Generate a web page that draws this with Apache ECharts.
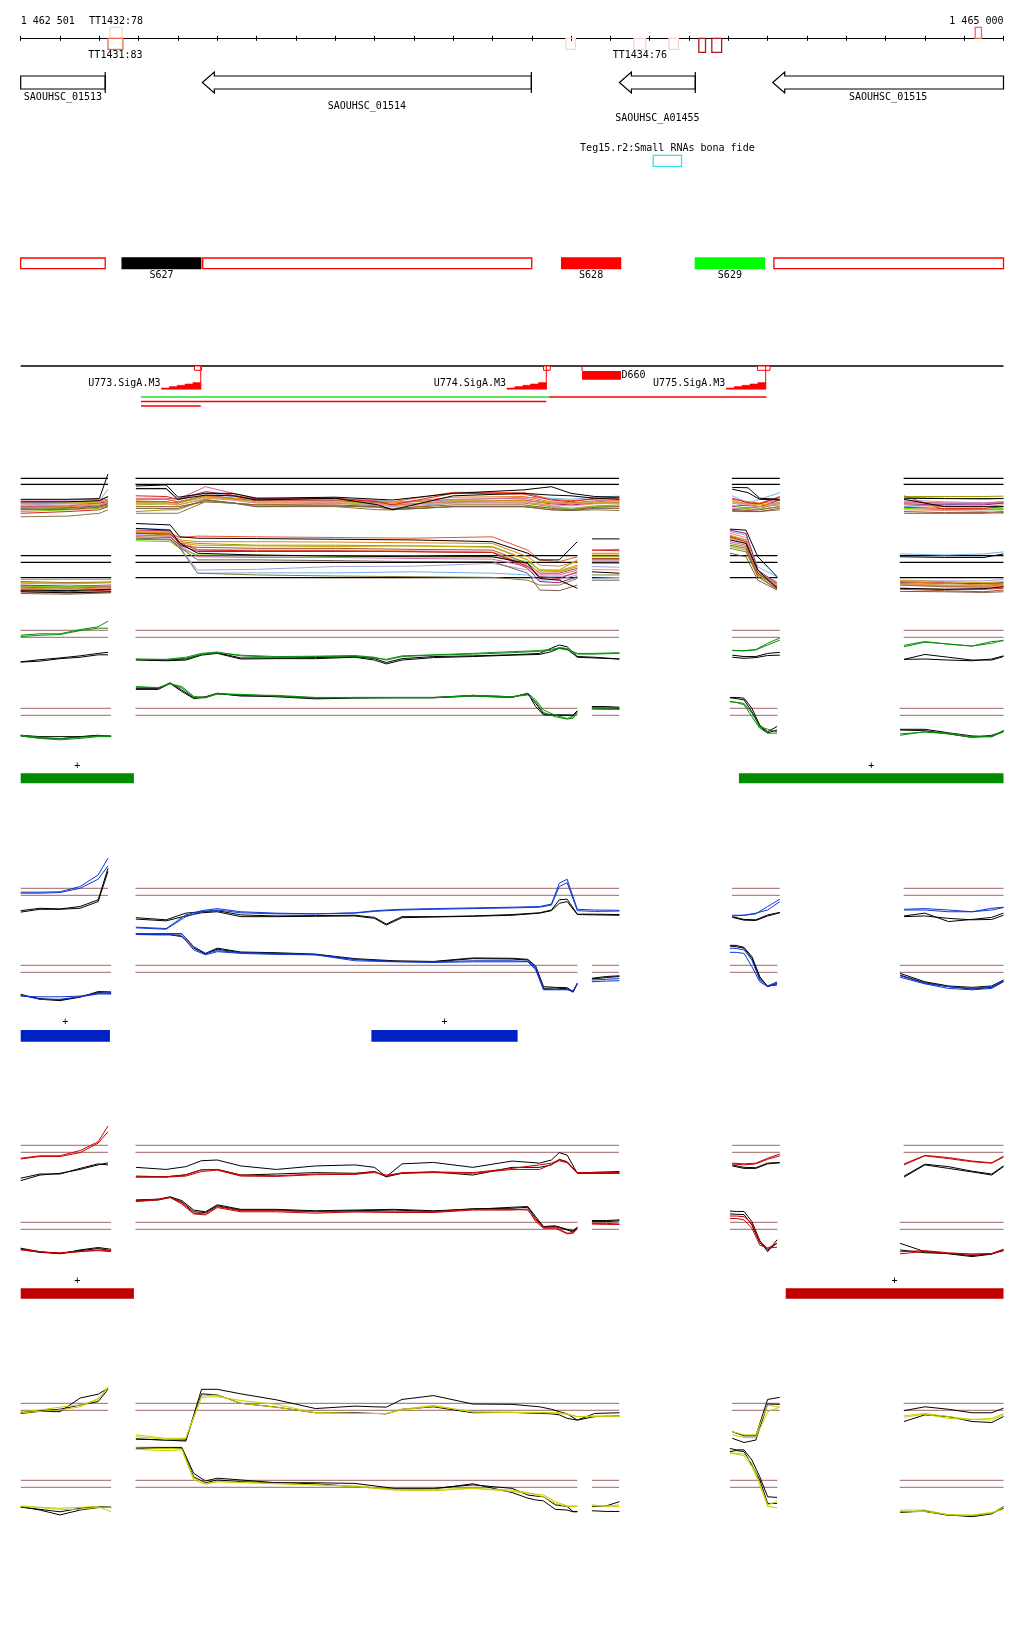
<!DOCTYPE html>
<html>
<head>
<meta charset="utf-8">
<title>Genome browser view</title>
<script src="https://cdn.jsdelivr.net/npm/echarts@6/dist/echarts.min.js"></script>
<style>
html,body{margin:0;padding:0;background:#ffffff;}
#chart{width:1024px;height:1640px;}
</style>
</head>
<body>
<div id="chart"></div>
<script>
// ================= DATA =================
const viewMin = 1462500;
const viewMax = 1465000;
const rulerLabels = ['1 462 501', '1 465 000'];

// transcription terminators
const ttNames  = ['TT1432:78', 'TT1431:83', '', 'TT1434:76', '', '', '', ''];
const ttStart  = [1462727, 1462722, 1463887, 1464060, 1464149, 1464225, 1464258, 1464928];
const ttEnd    = [1462758, 1462760, 1463911, 1464090, 1464173, 1464242, 1464283, 1464944];
const ttStrand = ['+', '-', '-', '-', '-', '-', '-', '+'];
const ttScore  = [78, 83, 75, 76, 70, 98, 97, 85];

// genes
const geneNames  = ['SAOUHSC_01513', 'SAOUHSC_01514', 'SAOUHSC_A01455', 'SAOUHSC_01515'];
const geneStart  = [1462300, 1462962, 1464023, 1464413];
const geneEnd    = [1462715, 1463799, 1464216, 1465300];
const geneStrand = ['-', '-', '-', '-'];

// small RNA
const srnaNames = ['Teg15.r2:Small RNAs bona fide'];
const srnaStart = [1464109];
const srnaEnd   = [1464181];

// segments
const segNames    = ['', 'S627', '', 'S628', 'S629', ''];
const segStart    = [1462500, 1462758, 1462963, 1463876, 1464216, 1464416];
const segEnd      = [1462715, 1462958, 1463800, 1464026, 1464392, 1465000];
const segCategory = ['CDS', 'S-a', 'CDS', 'S-b', 'S-c', 'CDS'];

// promoters
const promNames    = ['U773.SigA.M3', 'U774.SigA.M3', 'U775.SigA.M3'];
const promTSS      = [1462958, 1463837, 1464395];
const promBoxStart = [1462942, 1463830, 1464374];
const promBoxEnd   = [1462960, 1463847, 1464406];
const promStrand   = ['-', '-', '-'];

// D feature
const dNames = ['D660'];
const dStart = [1463928];
const dEnd   = [1464027];

// transcripts
const trStart = [1462806, 1463844, 1462806, 1462806];
const trEnd   = [1463844, 1464397, 1463837, 1462958];
const trKind  = ['G', 'R', 'R', 'R'];

// expressed segments bars (track 0 green, 1 blue, 2 red)
const barTrack  = [0, 0, 1, 1, 2, 2];
const barStart  = [1462500, 1464327, 1462500, 1463392, 1462500, 1464446];
const barEnd    = [1462788, 1465000, 1462727, 1463764, 1462788, 1465000];
const barStrand = ['+', '+', '+', '+', '+', '+'];

// ---- probe positions ----
const posUA  = [1462500, 1462549, 1462600, 1462651, 1462697, 1462722];
const posUB  = [1462793, 1462870, 1462920, 1462960, 1463000, 1463060, 1463150, 1463250, 1463350, 1463400, 1463430, 1463470, 1463550, 1463650, 1463750, 1463820, 1463850, 1463870, 1463890, 1463916, 1463960, 1464023];
const posUC  = [1464310, 1464340, 1464370, 1464400, 1464431];
const posUD  = [1464747, 1464800, 1464860, 1464920, 1464970, 1465000];
const posLA  = [1462500, 1462549, 1462600, 1462651, 1462697, 1462730];
const posLB1 = [1462793, 1462850, 1462880, 1462910, 1462940, 1462970, 1463000, 1463060, 1463150, 1463250, 1463350, 1463450, 1463550, 1463650, 1463750, 1463790, 1463810, 1463830, 1463860, 1463890, 1463905, 1463916];
const posLB2 = [1463953, 1463990, 1464023];
const posLC  = [1464304, 1464320, 1464340, 1464360, 1464380, 1464400, 1464424];
const posLD  = [1464737, 1464800, 1464860, 1464920, 1464970, 1465000];

const mUA  = [1462500, 1462620, 1462700, 1462722];
const mUB  = [1462793, 1462870, 1462900, 1462970, 1463040, 1463100, 1463300, 1463410, 1463445, 1463600, 1463780, 1463850, 1463900, 1463960, 1464023];
const mUC  = [1464310, 1464350, 1464380, 1464431];
const mUD  = [1464747, 1464850, 1464950, 1465000];
const mLA  = [1462500, 1462620, 1462730];
const mLB1 = [1462793, 1462880, 1462905, 1462950, 1463100, 1463300, 1463500, 1463700, 1463790, 1463820, 1463870, 1463916];
const mLB2 = [1463953, 1464023];
const mLC  = [1464304, 1464345, 1464375, 1464424];
const mLD  = [1464737, 1464850, 1464950, 1465000];

// covered extents (for threshold lines)
const extUp = [[1462500, 1462722], [1462792, 1464022], [1464309, 1464431], [1464746, 1465000]];
const extLo = [[1462500, 1462730], [1462792, 1463916], [1463953, 1464022], [1464304, 1464425], [1464736, 1465000]];
const thrMultiUp = [10, 9.14];
const thrMultiLo = [10, 9.05, 6.86];
const thrColor   = [10, 9];

// ---- multi-condition profiles (upper / lower strand) ----
const mUpK1 = [7.0,7.0,7.1,10.6, 8.9,9.05,7.3,7.85,7.85,7.15,7.3,7.0,6.9,7.85,8.35,8.8,7.85,7.4,7.3, 8.7,8.65,7.15,7.0, 7.15,7.1,7.1,7.1];
const mUpK2 = [6.65,6.65,6.8,7.4, 8.55,8.55,7.0,7.6,7.5,6.9,7.15,6.2,5.5,7.5,7.85,7.6,7.5,7.15,7.0, 8.45,7.95,7.0,6.9, 7.0,5.95,5.95,5.95];
const mUp1 = [6.5,6.6,6.8,7.0, 6.9,7.0,6.65,7.4,7.0,7.15,7.0,6.8,6.65,8.0,7.95,7.0,6.8,7.0,7.15, 7.0,6.65,6.45,7.4, 6.65,6.45,6.35,6.5];
const mUp2 = [5.55,5.7,5.95,6.45, 5.25,5.5,5.5,6.9,6.45,6.2,6.45,6.05,5.55,6.5,6.45,5.95,5.7,6.05,6.2, 5.5,5.7,5.95,6.2, 7.4,7.4,7.4,7.45];
const mUp3 = [6.45,6.5,6.7,8.45, 8.45,8.45,6.9,7.95,7.4,7.0,7.0,6.9,6.65,6.9,7.3,7.15,7.0,7.3,7.45, 7.5,6.5,7.0,7.95, 5.95,6.2,6.45,6.5];
const mUp4 = [6.2,6.35,6.45,6.9, 6.45,6.5,6.5,7.3,6.9,6.45,6.5,6.2,5.95,6.45,6.65,6.05,5.7,5.95,6.05, 6.45,6.05,5.95,6.65, 6.9,6.65,6.5,6.65];
const mUp5 = [5.95,6.05,6.45,6.65, 6.65,6.65,6.45,7.6,7.15,6.8,6.8,6.5,6.2,6.65,6.9,6.35,6.2,6.45,6.5, 5.95,6.2,5.95,6.9, 6.35,6.2,6.2,6.45];
const mUp6 = [6.9,6.9,7.0,7.3, 7.15,7.15,7.0,8.8,7.85,7.15,7.15,6.65,6.45,7.0,7.15,6.5,6.45,6.8,6.9, 5.7,5.85,5.7,6.45, 6.5,6.45,6.45,6.65];
const mUp7 = [5.25,5.5,5.7,6.05, 6.2,6.35,6.2,7.0,6.45,6.2,6.05,5.95,5.5,5.95,5.95,5.85,5.55,5.95,5.95, 6.2,5.5,5.6,5.95, 5.7,5.5,5.6,5.7];
const mUp8 = [5.85,5.95,6.2,6.5, 7.0,7.0,6.65,7.5,7.15,6.9,6.9,6.65,6.45,7.3,7.4,6.65,6.5,6.65,6.8, 6.65,6.45,6.35,6.9, 6.2,5.95,5.95,6.2];
const mUp9 = [5.5,5.55,5.85,6.2, 5.95,5.95,5.95,6.65,6.45,6.2,6.2,5.95,5.7,6.2,6.2,5.7,5.5,5.85,5.95, 5.55,5.4,5.5,5.95, 5.25,5.1,5.1,5.25];
const mUp10 = [6.35,6.45,6.6,6.9, 6.5,6.5,6.45,7.4,7.0,6.65,6.65,6.45,6.2,6.8,6.8,6.45,6.35,6.5,6.65, 6.5,6.35,6.2,6.5, 7.3,7.15,7.0,7.15];
const mUp11 = [4.5,4.6,5.0,5.5, 5.0,5.0,5.0,6.65,6.45,5.95,5.95,5.5,5.5,5.95,5.95,5.5,5.4,5.5,5.4, 5.25,5.25,5.25,5.5, 7.5,5.5,5.5,5.5];
const mUp12 = [6.05,6.15,6.35,6.5, 6.35,6.35,6.2,7.15,6.9,6.5,6.5,6.35,6.05,6.65,6.6,6.2,6.05,6.35,6.45, 6.9,6.2,5.95,6.35, 5.5,5.4,5.25,5.0];
const mUp13 = [5.7,5.8,6.05,6.35, 5.7,5.7,5.7,6.9,6.5,5.95,6.05,5.85,5.55,5.95,5.95,5.5,5.4,5.7,5.7, 5.4,5.25,5.25,5.7, 5.0,5.0,5.0,5.1];
const mUp14 = [5.0,5.25,5.5,5.95, 7.5,7.4,7.0,8.1,7.6,7.0,7.15,6.65,6.2,7.86,7.75,6.9,6.65,7.15,7.3, 7.15,6.5,6.35,7.3, 5.85,5.7,5.7,5.95];

const mLoK1 = [5.1,5.0,5.2, 14.6,14.4,12.7,12.5,12.45,12.35,12.25,12.0,10.35,9.4,9.4,12.0, 12.4,12.4, 13.8,13.65,9.85,7.0, 9.85,9.75,9.75,10.25];
const mLoK2 = [4.85,4.7,4.85, 13.9,13.65,11.75,10.35,10.1,9.95,9.85,9.85,8.9,6.75,6.5,5.35, 7.7,7.5, 12.25,11.75,7.95,5.35, 5.35,5.2,5.3,5.55];
const mLo1 = [4.85,4.7,4.85, 13.45,13.2,12.6,12.8,12.7,12.6,12.5,12.7,10.8,9.4,9.15,9.85, 10.8,10.9, 12.8,12.25,7.5,5.8, 6.3,6.15,5.95,6.05];
const mLo2 = [5.75,5.6,5.75, 13.2,12.95,12.0,11.75,11.5,11.5,11.4,11.3,9.4,7.95,7.95,9.4, 9.85,9.85, 11.75,11.3,7.25,5.55, 6.05,5.65,5.55,5.65];
const mLo3 = [6.6,6.6,6.6, 13.9,13.75,11.3,7.5,7.55,7.55,7.7,7.5,7.25,6.5,6.6,7.25, 6.75,6.9, 13.45,12.95,8.4,7.0, 10.25,10.1,10.25,10.55];
const mLo4 = [6.05,5.95,6.15, 12.95,12.8,11.05,7.95,8.05,8.45,8.5,8.9,7.95,7.0,7.0,7.5, 8.45,8.35, 12.5,11.75,7.5,6.3, 6.5,6.4,6.4,6.6];
const mLo5 = [5.8,5.65,5.8, 13.65,13.55,11.5,10.6,10.6,10.6,10.6,10.45,8.2,6.3,6.15,7.0, 9.4,9.4, 13.65,13.2,7.95,6.05, 6.15,6.05,6.05,6.15];
const mLo6 = [5.55,5.5,5.65, 12.95,12.8,11.4,9.85,9.75,9.75,9.6,9.5,8.45,7.25,7.25,7.95, 8.9,8.9, 12.0,11.5,7.7,5.9, 5.8,5.65,5.65,5.8];
const mLo7 = [5.65,5.55,5.75, 12.15,12.0,11.05,10.1,10.1,9.95,9.95,9.85,9.15,7.95,7.7,8.45, 9.15,9.15, 11.3,10.8,7.25,5.55, 5.95,5.8,5.75,5.95];
const mLo8 = [5.35,5.2,5.45, 13.3,13.1,12.25,12.0,12.0,11.95,11.85,11.75,9.85,8.65,8.5,9.15, 10.35,10.35, 12.6,12.0,7.4,5.85, 6.3,6.05,5.8,5.95];
const mLo9 = [6.3,6.15,6.25, 12.7,12.6,11.5,11.2,11.05,11.05,10.9,10.8,8.9,7.5,7.5,8.2, 9.6,9.6, 11.5,11.05,7.0,5.2, 5.2,5.0,4.85,5.1];
const mLo10 = [6.15,6.05,6.15, 13.45,13.3,11.85,11.5,11.4,11.3,11.4,11.2,9.4,7.95,7.85,8.65, 10.1,10.1, 12.95,12.25,7.4,5.8, 6.45,6.3,6.15,6.3];
const mLo11 = [5.5,5.35,5.55, 12.35,12.25,11.05,7.5,7.25,7.1,7.0,6.9,6.5,5.8,5.8,6.75, 7.25,7.25, 11.05,10.55,7.0,5.35, 5.8,5.55,5.5,5.65];
const mLo12 = [5.25,5.1,5.3, 13.55,13.45,12.25,10.9,10.8,10.8,10.7,10.55,8.65,7.7,7.7,8.45, 8.05,7.95, 13.2,12.6,7.7,5.65, 5.95,5.8,5.65,5.55];
const mLo13 = [4.6,4.5,4.7, 12.5,12.35,11.2,9.4,9.4,9.3,9.15,9.15,7.5,5.1,5.0,5.8, 6.5,6.5, 10.35,9.85,6.5,5.1, 4.9,4.85,4.75,4.85];
const mLo14 = [5.0,4.85,5.1, 13.2,13.1,11.85,10.8,10.7,10.7,10.55,10.45,8.45,7.0,6.75,7.7, 10.8,10.7, 12.7,12.0,7.5,5.55, 5.35,5.2,5.2,5.35];

// ---- green condition ----
const gUpC1 = [9.3,9.5,9.5,10.1,10.5,11.3, 5.9,5.85,6.15,6.7,6.9,6.35,6.15,6.25,6.3,6.05,5.85,6.35,6.5,6.7,6.95,7.1,7.3,7.4,7.2,6.7,6.7,6.8, 7.15,7.1,7.25,8.15,8.9, 7.65,8.3,8.05,7.75,8.15,8.6];
const gUpC2 = [9.1,9.3,9.4,9.95,10.3,10.3, 5.85,5.8,6.0,6.55,6.8,6.45,6.25,6.3,6.4,6.15,5.75,6.25,6.45,6.6,6.8,7.0,7.15,7.55,7.4,6.6,6.6,6.7, 7.1,7.05,7.2,7.9,8.6, 7.85,8.4,8.0,7.75,8.4,8.5];
const gUpK1 = [5.5,5.8,6.05,6.35,6.7,6.85, 5.85,5.75,5.9,6.55,6.8,6.05,6.05,6.1,6.25,5.95,5.4,5.95,6.25,6.35,6.5,6.7,7.45,7.9,7.65,6.25,6.15,5.9, 6.45,6.25,6.25,6.7,6.85, 5.85,6.55,6.15,5.75,5.75,6.25];
const gUpK2 = [5.45,5.6,5.95,6.15,6.5,6.5, 5.75,5.65,5.75,6.45,6.7,5.9,5.95,5.95,6.15,5.75,5.2,5.75,6.1,6.25,6.45,6.55,6.95,7.45,7.3,6.15,6.05,5.9, 6.15,6.0,6.1,6.4,6.45, 5.85,5.9,5.75,5.65,5.9,6.35];
const gLoC1 = [6.05,5.7,5.5,5.7,5.95,5.95, 13.1,12.95,13.5,13.1,11.7,11.55,12.15,11.9,11.85,11.55,11.55,11.55,11.55,11.75,11.55,12.15,11.2,9.75,9.0,8.55,8.8,9.5, 9.9,9.85,9.85, 10.95,10.85,10.7,9.3,7.4,7.0,6.65, 6.15,6.65,6.45,5.95,6.05,6.8];
const gLoC2 = [6.15,5.85,5.65,5.85,6.05,6.05, 13.0,12.95,13.55,12.9,11.55,11.5,12.05,12.0,11.75,11.5,11.5,11.5,11.5,11.85,11.65,11.9,10.95,9.4,8.8,8.45,8.6,9.3, 9.95,9.9,9.9, 10.95,10.85,10.5,8.8,7.15,6.45,6.45, 6.35,6.6,6.35,5.85,5.95,6.65];
const gLoK1 = [6.15,5.95,5.95,5.95,6.15,5.95, 12.85,12.85,13.65,12.6,11.5,11.65,12.15,11.75,11.75,11.45,11.55,11.55,11.55,11.85,11.65,12.05,10.7,9.2,9.05,9.05,9.05,9.65, 10.25,10.25,10.15, 11.55,11.55,11.45,10.0,7.6,6.65,7.4, 7.0,7.0,6.5,6.05,5.95,6.8];
const gLoK2 = [6.05,5.75,5.65,5.95,6.05,6.05, 12.7,12.7,13.55,12.4,11.4,11.55,12.05,11.85,11.65,11.35,11.45,11.5,11.5,11.75,11.55,12.15,10.25,9.05,9.0,9.0,8.9,9.5, 10.05,10.05,10.0, 11.5,11.4,11.2,9.5,7.4,6.5,6.9, 6.9,6.8,6.35,5.85,6.15,6.65];

// ---- blue condition ----
const bUpC1 = [9.45,9.45,9.5,10.25,11.9,14.3, 4.45,4.25,6.2,6.8,7.1,6.65,6.45,6.35,6.5,6.8,6.9,7.0,7.1,7.2,7.3,7.4,7.75,10.7,11.3,7.0,6.9,6.85, 6.15,6.15,6.35,7.4,8.45, 7.0,7.1,6.9,6.65,7.15,7.3];
const bUpC2 = [9.3,9.3,9.4,10.0,11.3,13.2, 4.35,4.15,5.95,6.65,6.9,6.5,6.35,6.35,6.45,6.7,6.8,6.9,7.0,7.1,7.2,7.3,7.6,10.25,10.8,6.8,6.7,6.75, 6.05,6.15,6.45,6.9,8.1, 6.9,6.9,6.65,6.65,6.9,7.25];
const bUpK1 = [6.8,7.15,7.05,7.4,8.35,12.85, 5.8,5.5,6.45,6.65,6.8,6.2,6.05,6.1,6.15,5.85,4.9,5.95,5.95,6.05,6.25,6.5,6.9,8.35,8.45,6.3,6.3,6.25, 5.95,5.55,5.5,6.2,6.55, 6.05,6.45,5.25,5.55,5.85,6.45];
const bUpK2 = [6.6,7.0,7.0,7.15,8.1,12.4, 5.6,5.35,6.05,6.5,6.65,5.95,5.95,6.0,6.05,5.7,4.75,5.8,5.9,6.0,6.15,6.45,6.8,7.85,8.1,6.25,6.2,6.15, 5.85,5.45,5.4,6.05,6.5, 5.95,6.05,5.7,5.5,5.55,6.15];
const bLoC1 = [5.6,5.5,5.5,5.6,6.0,6.1, 14.5,14.5,14.5,14.5,12.65,11.7,12.1,11.8,11.7,11.55,10.85,10.55,10.5,10.65,10.65,10.55,9.8,6.55,6.55,6.55,6.25,7.45, 7.9,8.0,8.1, 12.45,12.4,12.2,10.75,7.9,7.05,7.65, 8.5,7.45,6.95,6.7,6.95,7.8];
const bLoC2 = [5.75,5.15,5.15,5.5,5.9,5.9, 14.4,14.4,14.4,14.2,12.2,11.5,11.95,11.7,11.55,11.5,10.65,10.5,10.4,10.5,10.5,10.5,9.35,6.5,6.5,6.5,6.4,7.35, 7.65,7.75,7.8, 11.85,11.85,11.7,9.8,7.65,6.95,7.35, 8.3,7.35,6.7,6.5,6.7,7.65];
const bLoK1 = [5.85,5.15,4.95,5.45,6.25,6.2, 14.5,14.5,14.5,14.5,12.65,11.7,12.45,11.9,11.8,11.6,10.95,10.65,10.55,11.05,11.0,10.85,9.9,6.95,6.85,6.8,6.25,7.45, 8.15,8.4,8.5, 12.85,12.85,12.55,11.25,8.4,6.95,7.45, 8.85,7.65,7.05,6.85,7.05,7.9];
const bLoK2 = [5.7,5.25,5.05,5.5,6.1,6.0, 14.4,14.35,14.35,14.1,12.45,11.6,12.3,11.8,11.7,11.5,10.85,10.55,10.5,10.95,10.9,10.75,9.55,6.7,6.75,6.65,6.15,7.35, 8.05,8.25,8.4, 12.75,12.65,12.45,11.0,8.15,7.05,7.2, 8.6,7.5,6.95,6.6,6.85,7.7];

// ---- red condition ----
const rUpC1 = [8.15,8.5,8.5,9.25,10.5,12.75, 5.5,5.5,5.75,6.5,6.55,5.75,5.65,5.9,5.9,6.25,5.6,6.1,6.2,6.1,6.7,7.2,7.45,7.9,7.65,6.1,6.1,6.1, 7.45,7.35,7.45,8.15,8.75, 7.2,8.5,8.1,7.65,7.45,8.3];
const rUpC2 = [8.05,8.4,8.4,8.95,10.3,11.95, 5.45,5.45,5.6,6.25,6.45,5.6,5.55,5.8,5.85,6.1,5.75,6.0,6.1,6.0,6.55,6.55,7.3,7.8,7.5,6.0,6.0,6.0, 7.35,7.2,7.35,8.0,8.5, 7.35,8.55,8.25,7.75,7.5,8.45];
const rUpK1 = [4.95,5.75,6.0,6.55,7.2,7.5, 6.85,6.55,6.95,7.8,7.9,7.05,6.55,7.05,7.2,6.85,5.5,7.35,7.55,6.85,7.75,7.45,7.9,8.95,8.6,6.0,6.15,6.25, 7.2,6.85,6.8,7.45,7.55, 5.45,7.2,6.7,6.2,5.75,6.95];
const rUpK2 = [5.3,5.9,5.9,6.7,7.35,7.2, 5.6,5.5,5.8,6.5,6.55,5.75,5.9,6.1,6.0,6.25,5.5,6.0,6.2,5.75,6.85,6.85,7.2,8.0,7.65,6.0,6.0,6.0, 7.05,6.7,6.7,7.35,7.5, 5.6,7.3,6.95,6.3,5.9,7.05];
const rLoC1 = [6.15,5.8,5.55,5.8,6.05,5.95, 13.1,13.3,13.55,12.8,11.3,11.2,12.25,11.65,11.65,11.5,11.5,11.5,11.5,11.85,11.85,11.75,10.35,9.3,9.3,8.45,8.5,9.15, 9.85,9.85,9.75, 10.9,10.9,10.8,9.85,7.25,6.3,6.45, 5.8,5.95,5.65,5.45,5.55,6.15];
const rLoC2 = [6.05,5.75,5.65,5.85,5.95,5.8, 12.95,13.2,13.55,12.6,11.2,11.05,12.1,11.5,11.5,11.3,11.5,11.4,11.4,11.75,11.75,11.9,10.1,9.15,9.15,8.35,8.45,9.05, 9.75,9.7,9.7, 10.55,10.55,10.35,9.15,6.75,6.3,7.0, 5.5,5.85,5.55,5.45,5.5,6.05];
const rLoK1 = [6.3,5.8,5.5,6.05,6.4,6.15, 13.2,13.3,13.65,13.1,11.75,11.5,12.5,11.85,11.85,11.65,11.75,11.85,11.65,11.85,12.15,12.25,10.8,9.4,9.5,9.0,8.8,9.3, 10.25,10.25,10.35, 11.6,11.55,11.55,10.1,7.4,5.8,7.5, 7.0,5.8,5.5,5.1,5.45,6.05];
const rLoK2 = [6.15,5.7,5.55,5.95,6.25,5.95, 13.1,13.2,13.55,12.9,11.5,11.4,12.35,11.75,11.75,11.55,11.65,11.75,11.55,11.95,12.0,12.15,10.55,9.3,9.4,8.9,8.6,9.25, 10.1,10.1,10.2, 11.2,11.15,11.1,9.6,7.1,6.05,7.0, 6.05,5.65,5.55,5.25,5.5,5.95];

// ---- yellow condition ----
const yUpC1 = [8.8,9.05,9.45,9.75,10.5,12.4, 5.5,5.0,5.0,10.85,10.95,10.4,9.85,8.65,8.55,8.55,8.55,9.05,9.6,8.8,8.7,8.7,8.65,8.65,8.5,8.1,8.2,8.2, 5.95,5.5,5.5,9.75,9.45, 8.2,8.55,8.1,7.7,7.85,8.5];
const yUpC2 = [8.65,8.85,9.05,9.5,10.7,12.15, 5.25,4.85,5.0,11.05,11.2,10.0,9.45,8.65,8.55,8.55,8.5,9.15,9.7,8.75,8.7,8.65,8.65,8.55,8.4,8.1,8.1,8.1, 5.5,5.1,5.1,8.8,9.45, 8.0,8.45,7.85,7.7,7.6,8.35];
const yUpK1 = [8.55,8.85,8.8,10.75,11.3,12.15, 4.9,4.75,4.6,12.0,12.0,11.35,10.5,9.25,9.6,9.5,9.45,10.55,11.1,9.9,9.85,9.5,9.15,8.8,8.5,7.6,8.55,8.65, 5.95,5.35,5.35,10.55,10.85, 8.95,9.5,9.15,8.65,8.65,9.3];
const yUpK2 = [8.7,8.95,9.15,9.75,10.25,12.0, 4.9,4.75,4.75,11.35,11.2,10.0,9.45,8.65,8.65,8.55,8.5,9.15,9.5,8.65,8.7,8.55,8.5,8.35,7.85,7.6,8.1,8.2, 5.0,4.4,4.75,9.9,9.85, 7.4,8.35,8.1,7.4,7.25,8.1];
const yLoC1 = [6.35,6.15,6.0,6.15,6.25,5.5, 14.45,14.25,14.25,14.35,10.05,9.45,9.8,9.7,9.55,9.35,9.2,8.7,8.7,8.85,8.4,8.15,8.05,7.9,6.95,6.35,6.35,6.35, 6.5,6.25,6.5, 13.95,13.85,13.75,12.45,9.55,6.5,6.95, 5.75,5.75,5.05,4.95,5.3,6.15];
const yLoC2 = [6.25,6.1,5.85,5.85,6.15,6.15, 14.65,14.55,14.55,14.5,10.3,9.55,9.8,9.7,9.5,9.35,9.1,8.6,8.5,8.85,8.6,8.25,7.9,7.65,6.7,6.25,6.25,6.25, 6.35,6.35,6.25, 13.85,13.75,13.5,11.95,9.35,6.25,6.1, 5.5,5.55,5.1,5.05,5.4,5.85];
const yLoK1 = [6.15,5.85,5.5,6.0,6.25,6.15, 14.7,14.7,14.7,14.7,11.0,9.9,10.3,10.05,9.65,9.65,9.55,8.85,8.85,9.35,8.85,7.9,7.75,7.65,6.5,6.25,5.55,5.55, 6.25,6.35,6.95, 14.55,14.35,14.35,12.9,10.5,7.65,7.55, 5.4,5.65,5.05,4.8,5.2,6.25];
const yLoK2 = [6.25,5.75,5.05,5.75,6.1,6.15, 14.55,14.55,14.55,14.55,10.5,9.65,10.05,9.8,9.65,9.5,9.1,8.75,8.75,9.5,8.25,7.45,7.2,7.05,5.85,5.75,5.5,5.5, 5.65,5.55,5.55, 14.1,14.25,14.1,12.2,10.05,6.7,6.7, 5.5,5.55,5.0,4.95,5.3,6.0];

// ================= LAYOUT & STYLE =================
const GL = 20.7, GR = 20.5;
const LAYOUT = {
  rulerY: 38.3,
  ttH: 11, ttHStrong: 14,
  geneBody: [76, 89], geneHead: [72, 93], headLen: 12,
  geneLabelY: [97.3, 106, 118, 97.3],
  srnaBox: [155.3, 166.3], srnaLabelY: 148.7,
  segBox: [258, 268.7], segLabelY: 275.5,
  promLineY: 366, promBoxH: 4.3, promStemBottom: 389.3, triH: 6.7, triSteps: 5, triSpan: 100,
  promLabelY: 383.7,
  dBox: [371, 379.7],
  trY0: 397, trDy: 4.5,
  barY: [[773.3, 783.3], [1030, 1041.7], [1288.3, 1298.7]],
  plusDy: 7.3,
  panelR: [478.3, 555.7, 630.3, 708.3, 888.3, 965.3, 1145.3, 1222.3, 1403.3, 1480.3],
  pxPerUnit: 7, unitsAbove: 6, unitsTotal: 16
};
const FONT = '10px "DejaVu Sans Mono", monospace';
const SEG_STYLE = { 'CDS': ['#ffffff', '#ff0000'], 'S-a': ['#000000', '#000000'], 'S-b': ['#ff0000', '#ff0000'], 'S-c': ['#00ff00', '#00ff00'] };
const BAR_COLORS = ['#008c00', '#0022c4', '#c00000'];
const COND = { green: '#0b8f0b', blue: '#1036d2', red: '#c80000', yellow: '#c6d000' };
const THR_COLOR = '#a06464';
const MULTI_COLORS = ['#e8552a', '#9b9b00', '#6fb4ee', '#a99fd6', '#a3167f', '#d9609d', '#5fdc00',
  '#e6801c', '#a0522d', '#c8a800', '#8a7a3a', '#f08c6c', '#7a5c4c', '#d62020'];

// ================= BUILD =================
function withGaps(cols, vals) {
  const out = []; let k = 0;
  cols.forEach(function (c, ci) {
    if (ci > 0) out.push([c[0], '-']);
    c.forEach(function (p) { out.push([p, vals[k++]]); });
  });
  return out;
}
function refData(ext, v) {
  const out = [];
  ext.forEach(function (e, i) { if (i) out.push([e[0], '-']); out.push([e[0], v]); out.push([e[1], v]); });
  return out;
}
function txt(str, x, y, align) {
  return { type: 'text', style: { text: str, x: x, y: y, font: FONT, fill: '#000',
    align: align || 'center', verticalAlign: 'middle', textAlign: align || 'center', textVerticalAlign: 'middle' } };
}
function cx(api, p) { return api.coord([p, 0])[0]; }

const grids = [], xAxes = [], yAxes = [];
// grid 0 : ruler
grids.push({ left: GL, right: GR, top: LAYOUT.rulerY, height: 0.01, outerBoundsMode: 'none' });
xAxes.push({ type: 'value', gridIndex: 0, position: 'top', min: viewMin, max: viewMax, interval: 100,
  axisLine: { show: true, lineStyle: { color: '#000', width: 1 } },
  axisTick: { show: true, length: 2.5, lineStyle: { color: '#000', width: 1 } },
  axisLabel: { show: true, margin: 12, fontFamily: 'DejaVu Sans Mono', fontSize: 10, color: '#000',
    showMinLabel: true, showMaxLabel: true, alignMinLabel: 'left', alignMaxLabel: 'right', hideOverlap: false,
    formatter: function (v) { return v === viewMin ? rulerLabels[0] : (v === viewMax ? rulerLabels[1] : ''); } },
  splitLine: { show: false } });
yAxes.push({ type: 'value', gridIndex: 0, show: false });
// grid 1 : annotation features (layout y in page pixels)
grids.push({ left: GL, right: GR, top: 0, height: 1640, outerBoundsMode: 'none' });
xAxes.push({ type: 'value', gridIndex: 1, min: viewMin, max: viewMax, show: false });
yAxes.push({ type: 'value', gridIndex: 1, min: 0, max: 1640, inverse: true, show: false });
// grids 2..11 : expression panels
LAYOUT.panelR.forEach(function (R, i) {
  grids.push({ left: GL, right: GR, top: R - LAYOUT.unitsAbove * LAYOUT.pxPerUnit,
    height: LAYOUT.unitsTotal * LAYOUT.pxPerUnit, outerBoundsMode: 'none' });
  xAxes.push({ type: 'value', gridIndex: i + 2, min: viewMin, max: viewMax, show: false });
  yAxes.push({ type: 'value', gridIndex: i + 2, min: 0, max: LAYOUT.unitsTotal, show: false });
});
// downward ruler ticks
xAxes.push({ type: 'value', gridIndex: 0, position: 'bottom', min: viewMin, max: viewMax, interval: 100,
  axisLine: { show: false }, axisTick: { show: true, length: 2.5, lineStyle: { color: '#000', width: 1 } },
  axisLabel: { show: false }, splitLine: { show: false } });

const series = [];
function addLine(panel, cols, vals, color, width, z) {
  series.push({ type: 'line', xAxisIndex: panel + 2, yAxisIndex: panel + 2, data: withGaps(cols, vals),
    symbol: 'none', showSymbol: false, connectNulls: false, lineStyle: { color: color, width: width || 1 },
    silent: true, animation: false, z: z || 3 });
}
function addThr(panel, ext, vals, color, width) {
  vals.forEach(function (v) {
    series.push({ type: 'line', xAxisIndex: panel + 2, yAxisIndex: panel + 2, data: refData(ext, v),
      symbol: 'none', showSymbol: false, connectNulls: false, lineStyle: { color: color, width: width },
      silent: true, animation: false, z: 2 });
  });
}

// multi-condition panels
const mUpCols = [mUA, mUB, mUC, mUD];
const mLoCols = [mLA, mLB1, mLB2, mLC, mLD];
addThr(0, extUp, thrMultiUp, '#000', 1.3);
addThr(1, extLo, thrMultiLo, '#000', 1.3);
[mUp1, mUp2, mUp3, mUp4, mUp5, mUp6, mUp7, mUp8, mUp9, mUp10, mUp11, mUp12, mUp13, mUp14].forEach(function (a, i) {
  addLine(0, mUpCols, a, MULTI_COLORS[i], 1);
});
[mLo1, mLo2, mLo3, mLo4, mLo5, mLo6, mLo7, mLo8, mLo9, mLo10, mLo11, mLo12, mLo13, mLo14].forEach(function (a, i) {
  addLine(1, mLoCols, a, MULTI_COLORS[i], 1);
});
addLine(0, mUpCols, mUpK1, '#000', 1, 4); addLine(0, mUpCols, mUpK2, '#000', 1, 4);
addLine(1, mLoCols, mLoK1, '#000', 1, 4); addLine(1, mLoCols, mLoK2, '#000', 1, 4);

// coloured conditions
const upCols = [posUA, posUB, posUC, posUD];
const loCols = [posLA, posLB1, posLB2, posLC, posLD];
const condSets = [
  [2, COND.green, [gUpC1, gUpC2, gUpK1, gUpK2], [gLoC1, gLoC2, gLoK1, gLoK2]],
  [4, COND.blue, [bUpC1, bUpC2, bUpK1, bUpK2], [bLoC1, bLoC2, bLoK1, bLoK2]],
  [6, COND.red, [rUpC1, rUpC2, rUpK1, rUpK2], [rLoC1, rLoC2, rLoK1, rLoK2]],
  [8, COND.yellow, [yUpC1, yUpC2, yUpK1, yUpK2], [yLoC1, yLoC2, yLoK1, yLoK2]]
];
condSets.forEach(function (cs) {
  const p = cs[0], col = cs[1];
  addThr(p, extUp, thrColor, THR_COLOR, 1);
  addThr(p + 1, extLo, thrColor, THR_COLOR, 1);
  addLine(p, upCols, cs[2][2], '#000', 1, 3); addLine(p, upCols, cs[2][3], '#000', 1, 3);
  addLine(p, upCols, cs[2][0], col, 1, 4); addLine(p, upCols, cs[2][1], col, 1, 4);
  addLine(p + 1, loCols, cs[3][2], '#000', 1, 3); addLine(p + 1, loCols, cs[3][3], '#000', 1, 3);
  addLine(p + 1, loCols, cs[3][0], col, 1, 4); addLine(p + 1, loCols, cs[3][1], col, 1, 4);
});

function custom(data, renderItem) {
  series.push({ type: 'custom', coordinateSystem: 'cartesian2d', xAxisIndex: 1, yAxisIndex: 1,
    data: data, renderItem: renderItem, silent: true, animation: false, clip: false, z: 5,
    encode: { x: [0, 1] } });
}

// terminators
custom(ttStart.map(function (s, i) { return [s, ttEnd[i], i]; }), function (params, api) {
  const i = api.value(2);
  const x1 = cx(api, api.value(0)), x2 = cx(api, api.value(1));
  const y = LAYOUT.rulerY, sc = ttScore[i];
  const strong = sc >= 95;
  const h = strong ? LAYOUT.ttHStrong : LAYOUT.ttH;
  const col = strong ? '#b01818' : (sc >= 80 ? '#f0684c' : '#fbd6c8');
  const up = ttStrand[i] === '+';
  const top = up ? y - h : y;
  const ch = [{ type: 'rect', shape: { x: x1, y: top, width: x2 - x1, height: h },
    style: { fill: 'none', stroke: col, lineWidth: 1.3 } }];
  if (ttNames[i]) ch.push(txt(ttNames[i], (x1 + x2) / 2, up ? top - 6 : top + h + 6.5));
  return { type: 'group', children: ch };
});

// genes
custom(geneStart.map(function (s, i) { return [s, geneEnd[i], i]; }), function (params, api) {
  const i = api.value(2);
  const cs = params.coordSys;
  const L = cs.x, R = cs.x + cs.width;
  const sx = cx(api, api.value(0)), ex = cx(api, api.value(1));
  const b0 = LAYOUT.geneBody[0], b1 = LAYOUT.geneBody[1], h0 = LAYOUT.geneHead[0], h1 = LAYOUT.geneHead[1], hl = LAYOUT.headLen;
  const a = Math.max(sx, L), b = Math.min(ex, R), yc = (b0 + b1) / 2;
  const minus = geneStrand[i] === '-';
  const tipIn = minus ? sx >= L : ex <= R;
  const tailIn = minus ? ex <= R : sx >= L;
  let pts;
  if (minus && tipIn) pts = [[a, yc], [a + hl, h0], [a + hl, b0], [b, b0], [b, b1], [a + hl, b1], [a + hl, h1]];
  else if (!minus && tipIn) pts = [[b, yc], [b - hl, h0], [b - hl, b0], [a, b0], [a, b1], [b - hl, b1], [b - hl, h1]];
  else pts = [[a, b0], [b, b0], [b, b1], [a, b1]];
  const ch = [{ type: 'polygon', shape: { points: pts }, style: { fill: '#fff', stroke: '#000', lineWidth: 1.2 } }];
  if (tailIn) {
    const tx = minus ? b : a;
    ch.push({ type: 'line', shape: { x1: tx, y1: h0, x2: tx, y2: h1 }, style: { stroke: '#000', lineWidth: 1.2 } });
  }
  ch.push(txt(geneNames[i], (a + b) / 2, LAYOUT.geneLabelY[i]));
  return { type: 'group', children: ch };
});

// small RNA
custom(srnaStart.map(function (s, i) { return [s, srnaEnd[i], i]; }), function (params, api) {
  const i = api.value(2);
  const x1 = cx(api, api.value(0)), x2 = cx(api, api.value(1));
  return { type: 'group', children: [
    { type: 'rect', shape: { x: x1, y: LAYOUT.srnaBox[0], width: x2 - x1, height: LAYOUT.srnaBox[1] - LAYOUT.srnaBox[0] },
      style: { fill: 'none', stroke: '#2ee4f0', lineWidth: 1.3 } },
    txt(srnaNames[i], (x1 + x2) / 2, LAYOUT.srnaLabelY)
  ] };
});

// segments
custom(segStart.map(function (s, i) { return [s, segEnd[i], i]; }), function (params, api) {
  const i = api.value(2);
  const x1 = cx(api, api.value(0)), x2 = cx(api, api.value(1));
  const st = SEG_STYLE[segCategory[i]];
  const ch = [{ type: 'rect', shape: { x: x1, y: LAYOUT.segBox[0], width: x2 - x1, height: LAYOUT.segBox[1] - LAYOUT.segBox[0] },
    style: { fill: st[0], stroke: st[1], lineWidth: 1.3 } }];
  if (segNames[i]) ch.push(txt(segNames[i], (x1 + x2) / 2, LAYOUT.segLabelY));
  return { type: 'group', children: ch };
});

// promoter baseline
custom([[viewMin, viewMax, 0]], function (params, api) {
  const x1 = cx(api, api.value(0)), x2 = cx(api, api.value(1));
  return { type: 'line', shape: { x1: x1, y1: LAYOUT.promLineY, x2: x2, y2: LAYOUT.promLineY }, style: { stroke: '#000', lineWidth: 1.3 } };
});

// promoters
custom(promTSS.map(function (t, i) { return [t, t, i]; }), function (params, api) {
  const i = api.value(2);
  const t = promTSS[i];
  const xt = cx(api, t);
  const dir = promStrand[i] === '-' ? -1 : 1;
  const xs = cx(api, t + dir * LAYOUT.triSpan);
  const bx1 = cx(api, promBoxStart[i]), bx2 = cx(api, promBoxEnd[i]);
  const yb = LAYOUT.promStemBottom, n = LAYOUT.triSteps, H = LAYOUT.triH;
  const pts = [[xs, yb]];
  for (let k = 0; k < n; k++) {
    const l = xs + (xt - xs) * k / n, r = xs + (xt - xs) * (k + 1) / n, h = H * (k + 1) / n;
    pts.push([l, yb - h], [r, yb - h]);
  }
  pts.push([xt, yb]);
  return { type: 'group', children: [
    { type: 'rect', shape: { x: bx1, y: LAYOUT.promLineY, width: bx2 - bx1, height: LAYOUT.promBoxH }, style: { fill: '#fff', stroke: '#ff0000', lineWidth: 1 } },
    { type: 'line', shape: { x1: xt, y1: LAYOUT.promLineY, x2: xt, y2: yb }, style: { stroke: '#ff0000', lineWidth: 1 } },
    { type: 'polygon', shape: { points: pts }, style: { fill: '#ff0000', stroke: '#ff0000', lineWidth: 0.5 } },
    txt(promNames[i], Math.min(xs, xt) - 1, LAYOUT.promLabelY, 'right')
  ] };
});

// D feature
custom(dStart.map(function (s, i) { return [s, dEnd[i], i]; }), function (params, api) {
  const i = api.value(2);
  const x1 = cx(api, api.value(0)), x2 = cx(api, api.value(1));
  return { type: 'group', children: [
    { type: 'line', shape: { x1: x1, y1: LAYOUT.promLineY, x2: x1, y2: LAYOUT.dBox[0] }, style: { stroke: '#ff0000', lineWidth: 1 } },
    { type: 'rect', shape: { x: x1, y: LAYOUT.dBox[0], width: x2 - x1, height: LAYOUT.dBox[1] - LAYOUT.dBox[0] }, style: { fill: '#ff0000' } },
    txt(dNames[i], x2 + 0.5, (LAYOUT.dBox[0] + LAYOUT.dBox[1]) / 2, 'left')
  ] };
});

// transcripts (greedy row packing)
const rowEnds = [];
const trRow = trStart.map(function (s, i) {
  let r = 0;
  while (rowEnds[r] !== undefined && rowEnds[r] > s) r++;
  rowEnds[r] = trEnd[i];
  return r;
});
custom(trStart.map(function (s, i) { return [s, trEnd[i], i]; }), function (params, api) {
  const i = api.value(2);
  const x1 = cx(api, api.value(0)), x2 = cx(api, api.value(1));
  const y = LAYOUT.trY0 + trRow[i] * LAYOUT.trDy;
  return { type: 'line', shape: { x1: x1, y1: y, x2: x2, y2: y },
    style: { stroke: trKind[i] === 'G' ? '#22e022' : '#ff0000', lineWidth: 1.5 } };
});

// expressed-segment bars
custom(barStart.map(function (s, i) { return [s, barEnd[i], i]; }), function (params, api) {
  const i = api.value(2);
  const x1 = cx(api, api.value(0)), x2 = cx(api, api.value(1));
  const yy = LAYOUT.barY[barTrack[i]];
  return { type: 'group', children: [
    { type: 'rect', shape: { x: x1, y: yy[0], width: x2 - x1, height: yy[1] - yy[0] }, style: { fill: BAR_COLORS[barTrack[i]] } },
    txt(barStrand[i], (x1 + x2) / 2, yy[0] - LAYOUT.plusDy)
  ] };
});

const chart = echarts.init(document.getElementById('chart'), null, { renderer: 'canvas' });
chart.setOption({
  backgroundColor: '#ffffff',
  animation: false,
  grid: grids,
  xAxis: xAxes,
  yAxis: yAxes,
  series: series
});
</script>
</body>
</html>
